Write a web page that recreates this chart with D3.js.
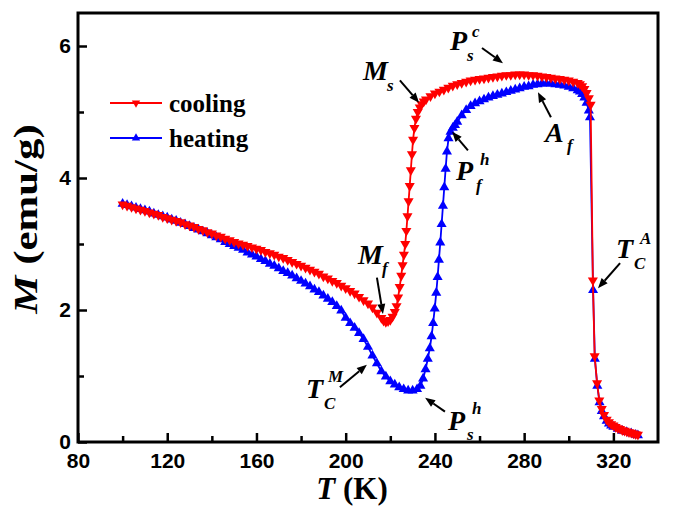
<!DOCTYPE html>
<html><head><meta charset="utf-8">
<script src="https://cdn.jsdelivr.net/npm/d3@7"></script>
<style>body{margin:0;background:#fff}</style>
</head><body>
<svg id="c" width="685" height="508"></svg>
<script>
// ---------- DATA ----------
const coolT = [
100,102,104,106,108,110,112,114,116,118,
120,122,124,126,128,130,132,134,136,138,
140,142,144,146,148,150,152,154,156,158,
160,162,164,166,168,170,172,174,176,178,
180,182,184,186,188,190,192,194,196,198,
200,202,204,206,208,210,212,214,216,217,
218,219,220,221,222,222.8,223.5,224.2,224.9,225.5,
226.1,226.7,227.2,227.7,228.2,228.7,229.2,229.7,230.2,230.8,
231.5,232.3,233.2,234,235,236,238,240,242,244,
246,248,250,252,254,256,258,260,262,264,
266,268,270,272,274,276,278,280,282,284,
286,288,290,292,294,296,298,300,302,304,
305,306,307,308,309,309.8,310.8,311.6,312.7,313.7,
314.8,315.8,317,318,319,320,321,322,323,324,
325,326,327,328,329,330,331];
const coolM = [
3.60,3.58,3.56,3.54,3.52,3.50,3.48,3.46,3.44,3.41,
3.39,3.37,3.35,3.33,3.30,3.28,3.26,3.23,3.21,3.18,
3.16,3.13,3.11,3.08,3.06,3.03,3.01,2.99,2.97,2.95,
2.93,2.91,2.88,2.86,2.84,2.81,2.79,2.76,2.73,2.70,
2.67,2.64,2.61,2.58,2.55,2.51,2.48,2.44,2.41,2.37,
2.33,2.29,2.25,2.20,2.15,2.10,2.04,1.96,1.88,1.84,
1.82,1.83,1.85,1.90,1.97,2.06,2.19,2.35,2.52,2.68,
2.84,3.00,3.20,3.42,3.65,3.88,4.12,4.36,4.58,4.76,
4.90,5.00,5.07,5.12,5.16,5.19,5.24,5.28,5.31,5.34,
5.37,5.40,5.42,5.44,5.46,5.48,5.49,5.50,5.51,5.52,
5.53,5.54,5.55,5.56,5.56,5.57,5.57,5.57,5.56,5.56,
5.55,5.54,5.53,5.52,5.51,5.50,5.49,5.48,5.46,5.44,
5.42,5.39,5.35,5.29,5.21,5.11,2.45,1.30,0.89,0.63,
0.50,0.41,0.34,0.30,0.27,0.25,0.23,0.21,0.20,0.18,
0.17,0.16,0.15,0.14,0.13,0.12,0.11];

const heatT = [
100,102,104,106,108,110,112,114,116,118,
120,122,124,126,128,130,132,134,136,138,
140,142,144,146,148,150,152,154,156,158,
160,162,164,166,168,170,172,174,176,178,
180,182,184,186,188,190,192,194,196,198,
200,202,204,206,208,210,212,214,216,218,
220,222,224,226,228,230,232,233.5,234.7,235.8,
236.8,237.7,238.5,239.2,239.9,240.6,241.2,241.8,242.4,243,
243.6,244.2,244.8,245.4,246.1,247,248,249,250,252,
254,256,258,260,262,264,266,268,270,272,
274,276,278,280,282,284,286,288,290,292,
294,296,298,300,302,304,305,306,307,308,
309,309.5,310.9,311.7,312.8,313.8,314.8,315.8,317,318,
319,320,322,324,326,328,330,331];
const heatM = [
3.61,3.59,3.57,3.55,3.53,3.51,3.49,3.46,3.44,3.42,
3.40,3.37,3.35,3.32,3.30,3.27,3.24,3.22,3.19,3.16,
3.13,3.10,3.07,3.03,3.00,2.97,2.94,2.91,2.87,2.84,
2.81,2.77,2.74,2.70,2.67,2.63,2.59,2.56,2.52,2.48,
2.44,2.40,2.36,2.31,2.27,2.22,2.17,2.12,2.06,1.99,
1.88,1.80,1.73,1.65,1.56,1.44,1.31,1.19,1.07,0.99,
0.92,0.87,0.83,0.80,0.78,0.78,0.80,0.85,0.96,1.10,
1.26,1.42,1.60,1.80,2.02,2.26,2.50,2.76,3.02,3.30,
3.58,3.86,4.14,4.40,4.60,4.70,4.76,4.80,4.85,4.95,
5.03,5.09,5.13,5.16,5.19,5.22,5.24,5.26,5.28,5.30,
5.32,5.34,5.36,5.38,5.39,5.41,5.42,5.43,5.43,5.43,
5.42,5.41,5.40,5.38,5.36,5.33,5.31,5.27,5.22,5.14,
5.02,4.92,2.30,1.26,0.85,0.60,0.47,0.39,0.32,0.28,
0.25,0.23,0.20,0.17,0.15,0.13,0.11,0.10];

const seriesNames = ["cooling", "heating"];
const xTicks = [80,120,160,200,240,280,320];
const xMinor = [100,140,180,220,260,300];
const yTicks = [0,2,4,6];
const yMinor = [1,3,5];

// annotation labels (data coords) with arrow tail/head (data coords)
const annLabels = [
 {main:"M", sub:"s", sup:"",  T:207.8, M:5.48, tT:224.3, tM:5.48, hT:232.9, hM:5.14, subDx:24, subDy:11, supDx:0,  supDy:0},
 {main:"P", sub:"s", sup:"c", T:246.8, M:5.94, tT:261.1, tM:5.97, hT:270.5, hM:5.74, subDx:17, subDy:11, supDx:22, supDy:-13},
 {main:"A", sub:"f", sup:"",  T:289.3, M:4.55, tT:292.0, tM:4.92, hT:286.2, hM:5.30, subDx:22, subDy:9,  supDx:0,  supDy:0},
 {main:"P", sub:"f", sup:"h", T:249.4, M:3.97, tT:254.8, tM:4.42, hT:247.7, hM:4.70, subDx:20, subDy:11, supDx:24, supDy:-15},
 {main:"M", sub:"f", sup:"",  T:205.5, M:2.70, tT:214.0, tM:2.49, hT:216.7, hM:1.94, subDx:24, subDy:10, supDx:0,  supDy:0},
 {main:"T", sub:"C", sup:"M", T:182.2, M:0.67, tT:197.4, tM:0.83, hT:209.5, hM:1.17, subDx:18, subDy:11, supDx:22, supDy:-16},
 {main:"P", sub:"s", sup:"h", T:245.9, M:0.18, tT:244.5, tM:0.46, hT:235.6, hM:0.67, subDx:19, subDy:10, supDx:24, supDy:-16},
 {main:"T", sub:"C", sup:"A", T:321.2, M:2.79, tT:323.0, tM:2.71, hT:313.1, hM:2.33, subDx:18, subDy:11, supDx:24, supDy:-14}
];

// ---------- CHART ----------
const W = 685, H = 508;
const m = {l:78, t:13, r:27, b:66};
const RED = "#ff0000", BLUE = "#0000ff";
const SERIF = "'Liberation Serif','Times New Roman',serif";
const SANS = "'Liberation Sans',Arial,sans-serif";

const x = d3.scaleLinear().domain([80,340]).range([m.l, W-m.r]);
const y = d3.scaleLinear().domain([0,6.5]).range([H-m.b, m.t]);
const svg = d3.select("#c");

const cool = coolT.map((t,i)=>({T:t, M:coolM[i]}));
const heat = heatT.map((t,i)=>({T:t, M:heatM[i]}));
const line = d3.line().x(d=>x(d.T)).y(d=>y(d.M));
const sym = d3.symbol().type(d3.symbolTriangle).size(44);

function drawSeries(data, color, rot){
  svg.append("path").datum(data).attr("d", line)
    .attr("fill","none").attr("stroke",color).attr("stroke-width",1.8);
  svg.append("g").selectAll("path").data(data).join("path")
    .attr("d", sym).attr("fill", color)
    .attr("transform", d=>`translate(${x(d.T)},${y(d.M)}) rotate(${rot})`);
}
drawSeries(heat, BLUE, 0);
drawSeries(cool, RED, 180);

// axes
function styleAxis(g){
  g.select(".domain").remove();
  g.selectAll("line").attr("stroke","#000").attr("stroke-width",2.5);
  g.selectAll("text").attr("font-family",SANS).attr("font-weight","bold")
    .attr("font-size",21).attr("fill","#000");
}
svg.append("g").attr("transform",`translate(0,${H-m.b})`)
  .call(d3.axisBottom(x).tickValues(xTicks).tickSizeInner(-9).tickSizeOuter(0).tickPadding(11))
  .call(styleAxis);
svg.append("g").attr("transform",`translate(0,${H-m.b})`)
  .call(d3.axisBottom(x).tickValues(xMinor).tickSizeInner(-6).tickSizeOuter(0).tickFormat(""))
  .call(styleAxis);
svg.append("g").attr("transform",`translate(${m.l},0)`)
  .call(d3.axisLeft(y).tickValues(yTicks).tickSizeInner(-9).tickSizeOuter(0).tickPadding(7).tickFormat(d3.format("d")))
  .call(styleAxis);
svg.append("g").attr("transform",`translate(${m.l},0)`)
  .call(d3.axisLeft(y).tickValues(yMinor).tickSizeInner(-6).tickSizeOuter(0).tickFormat(""))
  .call(styleAxis);

// frame
svg.append("rect").attr("x",m.l).attr("y",m.t)
  .attr("width",W-m.l-m.r).attr("height",H-m.t-m.b)
  .attr("fill","none").attr("stroke","#000").attr("stroke-width",3);

// axis titles
const xt = svg.append("text").attr("x",352).attr("y",499).attr("text-anchor","middle")
  .attr("font-family",SERIF).attr("font-weight","bold").attr("font-size",31);
xt.append("tspan").attr("font-style","italic").text("T");
xt.append("tspan").text(" (K)");
const yt = svg.append("text").attr("transform","translate(37,219) rotate(-90) scale(1.3,1)").attr("text-anchor","middle")
  .attr("font-family",SERIF).attr("font-weight","bold").attr("font-size",33);
yt.append("tspan").attr("font-style","italic").text("M");
yt.append("tspan").text(" (emu/g)");

// legend
const legColors = [RED, BLUE], legRot = [180, 0], legY = [103, 138];
seriesNames.forEach((name,i)=>{
  const g = svg.append("g");
  g.append("line").attr("x1",110).attr("x2",162).attr("y1",legY[i]).attr("y2",legY[i])
    .attr("stroke",legColors[i]).attr("stroke-width",2);
  g.append("path").attr("d",d3.symbol().type(d3.symbolTriangle).size(30)())
    .attr("fill",legColors[i]).attr("transform",`translate(136,${legY[i]}) rotate(${legRot[i]})`);
  g.append("text").attr("x",169).attr("y",legY[i]+8.5)
    .attr("font-family",SERIF).attr("font-weight","bold").attr("font-size",25).text(name);
});

// annotations
annLabels.forEach(a=>{
  const px = x(a.T), py = y(a.M);
  const t = svg.append("g").attr("font-family",SERIF).attr("font-weight","bold").attr("font-style","italic");
  t.append("text").attr("x",px).attr("y",py).attr("font-size",28).text(a.main);
  if(a.sub) t.append("text").attr("x",px+a.subDx).attr("y",py+a.subDy).attr("font-size",17).text(a.sub);
  if(a.sup) t.append("text").attr("x",px+a.supDx).attr("y",py+a.supDy).attr("font-size",17).text(a.sup);
  const x1 = x(a.tT), y1 = y(a.tM), x2 = x(a.hT), y2 = y(a.hM);
  const ang = Math.atan2(y2-y1, x2-x1), L = 10, Wd = 4;
  const bx = x2 - L*Math.cos(ang), by = y2 - L*Math.sin(ang);
  svg.append("line").attr("x1",x1).attr("y1",y1).attr("x2",bx).attr("y2",by)
    .attr("stroke","#000").attr("stroke-width",2);
  svg.append("path").attr("fill","#000").attr("d",
    `M${x2},${y2}L${bx - Wd*Math.sin(ang)},${by + Wd*Math.cos(ang)}L${bx + Wd*Math.sin(ang)},${by - Wd*Math.cos(ang)}Z`);
});
</script>
</body></html>
